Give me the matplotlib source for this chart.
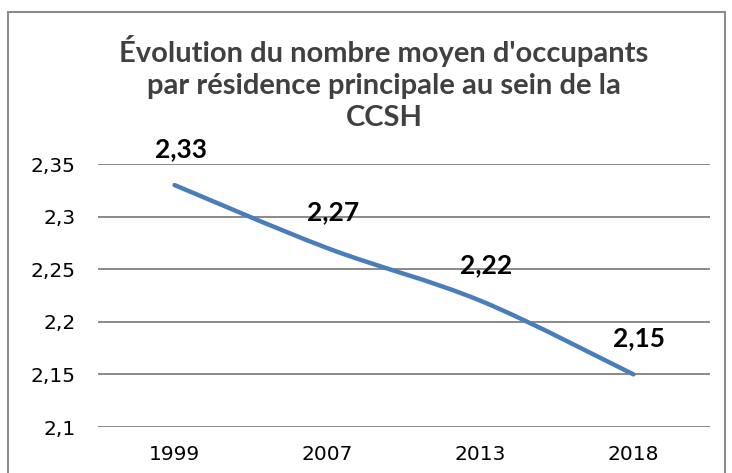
import numpy as np
import matplotlib.pyplot as plt
from matplotlib.path import Path
from matplotlib.patches import PathPatch, Rectangle

# -------------------------------
# Data
# -------------------------------
years = ["1999", "2007", "2013", "2018"]
occupants = [2.33, 2.27, 2.22, 2.15]
value_labels = ["2,33", "2,27", "2,22", "2,15"]
yticks = [2.1, 2.15, 2.2, 2.25, 2.3, 2.35]
ytick_labels = ["2,1", "2,15", "2,2", "2,25", "2,3", "2,35"]

title = "Évolution du nombre moyen d'occupants\npar résidence principale au sein de la\nCCSH"

line_color = "#4A7EBB"
grid_color = "#898989"
text_color = "#404040"

# -------------------------------
# Figure
# -------------------------------
fig = plt.figure(figsize=(7.32, 4.73), dpi=100)
ax = fig.add_axes([98 / 732, 1 - 427 / 473, 612 / 732, 263 / 473])

x = np.arange(len(years))
y = np.array(occupants)

# smoothed line (Excel style) built as a Bezier path through the points
verts = [(x[0], y[0])]
codes = [Path.MOVETO]
for i in range(len(x) - 1):
    p0 = (x[i - 1], y[i - 1]) if i > 0 else (x[i], y[i])
    p1 = (x[i], y[i])
    p2 = (x[i + 1], y[i + 1])
    p3 = (x[i + 2], y[i + 2]) if i + 2 < len(x) else p2
    c1 = (p1[0] + (p2[0] - p0[0]) / 6, p1[1] + (p2[1] - p0[1]) / 6)
    c2 = (p2[0] - (p3[0] - p1[0]) / 6, p2[1] - (p3[1] - p1[1]) / 6)
    verts += [c1, c2, p2]
    codes += [Path.CURVE4] * 3
ax.add_patch(PathPatch(Path(verts, codes), facecolor="none",
                       edgecolor=line_color, lw=3.2, capstyle="round", zorder=3))

ax.set_xlim(-0.5, len(years) - 0.5)
ax.set_ylim(2.1, 2.35)
ax.set_xticks(x)
ax.set_xticklabels(years)
ax.set_yticks(yticks)
ax.set_yticklabels(ytick_labels)
ax.tick_params(length=0, labelsize=14.5, labelcolor="black")
ax.tick_params(axis="y", pad=16)
ax.tick_params(axis="x", pad=13)
for lab in ax.get_xticklabels() + ax.get_yticklabels():
    lab.set_family("DejaVu Sans")

ax.grid(axis="y", color=grid_color, lw=1.4)
ax.set_axisbelow(True)
for s in ax.spines.values():
    s.set_visible(False)

# data labels
for xi, yi, lab in zip(x, y, value_labels):
    ax.annotate(lab, (xi, yi), xytext=(6, 36), textcoords="offset pixels",
                ha="center", va="center", fontsize=19, fontweight="bold",
                family="Lato", color="black")

# title
fig.text(384 / 732, 1 - 83 / 473, title, ha="center", va="center",
         fontsize=21, fontweight="bold", family="Lato", color=text_color,
         linespacing=1.3)

# chart border (bottom edge runs off the image)
fig.patches.append(Rectangle((8 / 732, -0.05), 717 / 732, 1.05 - 12 / 473,
                             transform=fig.transFigure, fill=False,
                             edgecolor="#8C8C8C", lw=1.5))

fig.savefig("out.png", dpi=100)
